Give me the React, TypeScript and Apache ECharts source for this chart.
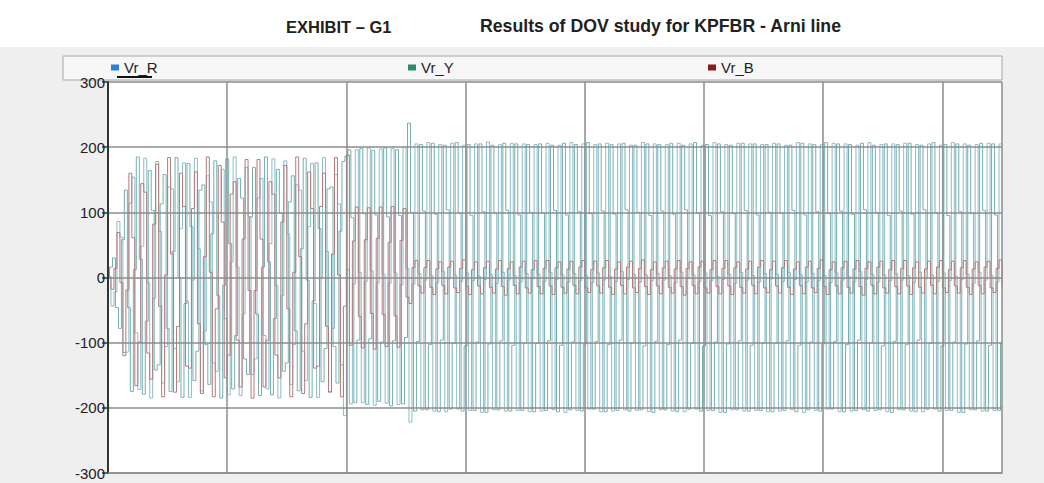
import React, { useEffect, useRef } from "react";
import * as echarts from "echarts";

const TITLE_EXHIBIT = "EXHIBIT – G1";
const TITLE_MAIN = "Results of DOV study for KPFBR - Arni line";
const SERIES_NAMES = ["Vr_R", "Vr_Y", "Vr_B"];
const LEGEND_COLORS = ["#2f7fd6", "#2a8c72", "#8b1a1a"];
const LINE_COLORS = ["#8dbccb", "#74afad", "#b27b7b"];
const STEP_MODES = ["start", "middle", "end"];
const DRAW_ORDER_Z = [3, 4, 5];
const LEGEND_LEFT = [111, 408, 708];
const DT = 0.0025; // sampling step of the record (s)
const X_MAX = 0.75;
const X_STEP = 0.1;
const Y_MIN = -300;
const Y_MAX = 300;
const Y_STEP = 100;

// Vr_R samples (kV)
const vrR = [
  0, 2, -44, -22, 86, 62, -115, -114, 114, 154,
  -85, -172, 48, 183, -8, -185, -32, 178, 71, -162,
  -106, 139, 136, -109, -160, 75, 176, -36, -184, -4,
  183, 44, -174, -82, 156, 116, -131, -144, 99, 166,
  -63, -180, 24, 185, 16, -181, -56, 169, 93, -149,
  -125, 122, 152, -89, -171, 52, 182, -12, -185, -28,
  179, 67, -164, -103, 142, 134, -113, -158, 78, 175,
  -40, -184, 0, 184, 40, -175, -78, 158, 113, -134,
  -212, 12, -194, -10, 196, 8, -192, -6, 199, 10, -196, -8,
  197, 5, -193, -9, 198, 7, -195, -11, 200, 14, -222, -10,
  205, 6, -203, -4, 207, 3, -205, -8, 204, 9, -206, -2, 206, 4, -202, -6, 203, 7, -204, -5,
  205, 2, -207, -3, 208, 5, -203, -9, 204, 8, -205, -4, 206, 3, -204, -7, 205, 6, -206, -2,
  204, 5, -205, -6, 206, 8, -203, -3, 203, 4, -207, -7, 207, 6, -204, -5, 205, 3, -202, -8,
  204, 7, -206, -4, 206, 2, -205, -6, 205, 9, -203, -3, 203, 5, -204, -7, 207, 4, -206, -5,
  205, 6, -203, -4, 204, 3, -205, -8, 206, 8, -206, -2, 205, 4, -202, -6, 203, 7, -204, -5,
  207, 2, -207, -3, 204, 5, -203, -9, 206, 8, -205, -4, 205, 3, -204, -7, 204, 6, -206, -2,
  206, 5, -205, -6, 203, 8, -203, -3, 207, 4, -207, -7, 205, 6, -204, -5, 204, 3, -202, -8,
  206, 7, -206, -4, 205, 2, -205, -6, 203, 9, -203, -3, 207, 5, -204, -7, 204, 4, -206, -5,
  205, 6, -203, -4, 206, 3, -205, -8, 204, 8, -206, -2, 205, 4, -202, -6, 203, 7, -204, -5,
  207, 2, -207, -3, 205, 5, -203, -9, 204, 8, -205, -4, 206, 3, -204, -7,
  205,
];

// Vr_Y samples (kV)
const vrY = [
  0, 16, 30, -46, -78, 58, 134, -46, -175, 12,
  185, 28, -179, -67, 164, 103, -142, -134, 113, 158,
  -78, -175, 40, 184, 0, -184, -40, 175, 78, -158,
  -113, 134, 142, -103, -164, 67, 179, -28, -185, -12,
  182, 52, -171, -89, 152, 122, -125, -149, 93, 169,
  -56, -181, 16, 185, 24, -180, -63, 166, 99, -144,
  -131, 116, 156, -82, -174, 44, 183, -4, -184, -36,
  176, 75, -160, -109, 136, 139, -106, -162, 71, 178,
  186, 196, 92, -192, -96, 198, 98, -195, -94, 195, 96, -190,
  -99, 199, 93, -197, -97, 196, 95, -194, -92, 237, 100, -205,
  -98, 204, 102, -203, -103, 206, 97, -206, -96, 203, 104, -202, -101, 207, 99, -205, -105, 204, 95, -204,
  -99, 205, 101, -207, -102, 203, 98, -203, -97, 206, 103, -205, -104, 205, 96, -204, -100, 204, 100, -206,
  -101, 205, 99, -204, -97, 203, 103, -206, -104, 206, 96, -203, -99, 204, 101, -205, -102, 207, 98, -202,
  -98, 205, 102, -206, -103, 204, 97, -204, -96, 206, 104, -205, -100, 203, 100, -203, -105, 205, 95, -207,
  -98, 204, 102, -203, -103, 206, 97, -206, -96, 203, 104, -202, -101, 207, 99, -205, -105, 204, 95, -204,
  -99, 205, 101, -207, -102, 203, 98, -203, -97, 206, 103, -205, -104, 205, 96, -204, -100, 204, 100, -206,
  -101, 205, 99, -204, -97, 203, 103, -206, -104, 206, 96, -203, -99, 204, 101, -205, -102, 207, 98, -202,
  -98, 205, 102, -206, -103, 204, 97, -204, -96, 206, 104, -205, -100, 203, 100, -203, -105, 205, 95, -207,
  -98, 204, 102, -203, -103, 206, 97, -206, -96, 203, 104, -202, -101, 207, 99, -205, -105, 204, 95, -204,
  -99, 205, 101, -207, -102, 203, 98, -203, -97, 206, 103, -205, -104, 205, 96, -204,
  -100,
];

// Vr_B samples (kV)
const vrB = [
  0, -18, 14, 69, -8, -120, -19, 160, 61, -166,
  -99, 144, 131, -116, -156, 82, 174, -44, -183, 4,
  184, 36, -176, -75, 160, 109, -136, -139, 106, 162,
  -71, -178, 32, 185, 8, -183, -48, 172, 85, -154,
  -119, 128, 147, -96, -168, 59, 181, -20, -185, -20,
  181, 59, -168, -96, 147, 128, -119, -154, 85, 172,
  -48, -183, 8, 185, 32, -178, -71, 162, 106, -139,
  -136, 109, 160, -75, -176, 36, 184, 4, -183, -44,
  188, -104, 56, 108, -60, -108, 58, 107, -55, -110, 60, 108,
  -57, -106, 54, 109, -59, -107, 57, 106, -30, -40, 15, 26,
  -13, -24, 15, 26, -15, -26, 13, 24, -12, -25, 16, 25, -16, -23, 14, 27, -14, -26, 12, 24,
  -13, -25, 15, 25, -15, -24, 13, 26, -14, -27, 14, 24, -12, -25, 16, 25, -16, -24, 12, 26,
  -14, -25, 14, 26, -13, -26, 15, 24, -15, -24, 13, 25, -12, -25, 16, 26, -16, -23, 12, 25,
  -13, -24, 15, 26, -15, -26, 13, 24, -12, -25, 16, 25, -16, -23, 14, 27, -14, -26, 12, 24,
  -13, -25, 15, 25, -15, -24, 13, 26, -14, -27, 14, 24, -12, -25, 16, 25, -16, -24, 12, 26,
  -14, -25, 14, 26, -13, -26, 15, 24, -15, -24, 13, 25, -12, -25, 16, 26, -16, -23, 12, 25,
  -13, -24, 15, 26, -15, -26, 13, 24, -12, -25, 16, 25, -16, -23, 14, 27, -14, -26, 12, 24,
  -13, -25, 15, 25, -15, -24, 13, 26, -14, -27, 14, 24, -12, -25, 16, 25, -16, -24, 12, 26,
  -14, -25, 14, 26, -13, -26, 15, 24, -15, -24, 13, 25, -12, -25, 16, 26, -16, -23, 12, 25,
  -13, -24, 15, 26, -15, -26, 13, 24, -12, -25, 16, 25, -16, -23, 14, 27,
  -14,
];

const FONT = "'Liberation Sans', Arial, sans-serif";

export default function App() {
  const ref = useRef<HTMLDivElement>(null);

  useEffect(() => {
    if (!ref.current) return;
    const chart = echarts.init(ref.current, undefined, { renderer: "svg" });
    const records = [vrR, vrY, vrB];

    chart.setOption({
      animation: false,
      backgroundColor: "#efefef",
      title: [
        {
          text: TITLE_EXHIBIT,
          left: 281,
          top: 13,
          textStyle: { fontFamily: FONT, fontSize: 16.5, fontWeight: "bold", color: "#222" },
        },
        {
          text: TITLE_MAIN,
          left: 475,
          top: 12,
          textStyle: { fontFamily: FONT, fontSize: 17.7, fontWeight: "bold", color: "#222" },
        },
      ],
      graphic: [
        {
          type: "rect",
          z: 0,
          shape: { x: 0, y: 0, width: 1044, height: 47 },
          style: { fill: "#ffffff" },
          silent: true,
        },
        {
          type: "rect",
          z: 0,
          shape: { x: 63, y: 56, width: 939, height: 24 },
          style: { fill: "#f7f7f7", stroke: "#a8a8a8", lineWidth: 1 },
          silent: true,
        },
        {
          type: "rect",
          z: 1,
          shape: { x: 117, y: 76, width: 35, height: 2 },
          style: { fill: "#111111" },
          silent: true,
        },
      ],
      legend: SERIES_NAMES.map((name, i) => ({
        data: [name],
        left: LEGEND_LEFT[i],
        top: 60,
        padding: 0,
        icon: "rect",
        itemWidth: 8,
        itemHeight: 6,
        itemGap: 0,
        selectedMode: false,
        textStyle: { fontFamily: FONT, fontSize: 15, color: "#222" },
      })),
      grid: {
        left: 108,
        right: 42,
        top: 82,
        bottom: 10,
        show: true,
        backgroundColor: "#ffffff",
        borderWidth: 0,
      },
      xAxis: {
        type: "value",
        min: 0,
        max: X_MAX,
        interval: X_STEP,
        z: 6,
        axisLabel: { show: false },
        axisTick: { show: false },
        axisLine: { show: true, onZero: false, lineStyle: { color: "#8c8c8c", width: 1.5 } },
        splitLine: { show: true, lineStyle: { color: "#8c8c8c", width: 1.5 } },
      },
      yAxis: {
        type: "value",
        min: Y_MIN,
        max: Y_MAX,
        interval: Y_STEP,
        z: 6,
        axisLine: { show: true, onZero: false, lineStyle: { color: "#333333", width: 2 } },
        axisTick: { show: true, length: 6, lineStyle: { color: "#333333", width: 1.5 } },
        axisLabel: { fontFamily: FONT, fontSize: 15, color: "#222", margin: 3 },
        splitLine: { show: true, lineStyle: { color: "#8c8c8c", width: 1.5 } },
      },
      series: records.map((rec, i) => ({
        name: SERIES_NAMES[i],
        type: "line",
        step: STEP_MODES[i],
        z: DRAW_ORDER_Z[i],
        data: rec.map((v, k) => [k * DT, v]),
        showSymbol: false,
        symbol: "none",
        itemStyle: { color: LEGEND_COLORS[i] },
        lineStyle: { color: LINE_COLORS[i], width: 1 },
        emphasis: { disabled: true },
      })),
    });

    return () => chart.dispose();
  }, []);

  return (
    <div
      ref={ref}
      style={{ position: "absolute", left: 0, top: 0, width: 1044, height: 483 }}
    />
  );
}
